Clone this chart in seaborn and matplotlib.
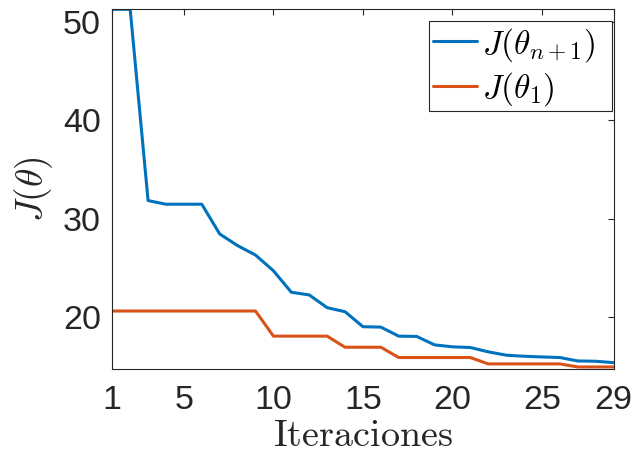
import numpy as np
import pandas as pd
import matplotlib
matplotlib.use("Agg")
import matplotlib.pyplot as plt
from matplotlib.patches import Rectangle
import seaborn as sns

# ---- data ----
iteraciones = list(range(1, 30))
j_theta_n1 = [51.32, 51.32, 31.83, 31.46, 31.46, 31.46, 28.43, 27.24, 26.28, 24.68,
              22.49, 22.22, 20.92, 20.51, 18.98, 18.94, 18.02, 17.99, 17.13, 16.93,
              16.86, 16.42, 16.08, 15.97, 15.90, 15.84, 15.49, 15.46, 15.32]
j_theta_1 = [20.58] * 9 + [18.02] * 4 + [16.89] * 3 + [15.84] * 5 + [15.19] * 5 + [14.88] * 3
series_labels = [r'$J(\theta_{n+1})$', r'$J(\theta_1)$']
x_ticks = [1, 5, 10, 15, 20, 25, 29]
y_ticks = [20, 30, 40, 50]

df = pd.DataFrame({
    'it': iteraciones * 2,
    'J': j_theta_n1 + j_theta_1,
    'serie': [series_labels[0]] * len(iteraciones) + [series_labels[1]] * len(iteraciones),
})

sns.set_theme(style='white')
plt.rcParams['font.family'] = ['Liberation Sans', 'DejaVu Sans']
plt.rcParams['mathtext.fontset'] = 'cm'

dark = '#262626'
W, H = 634, 461
fig = plt.figure(figsize=(W / 100, H / 100), dpi=100)
ax = fig.add_axes([0.1771, 0.1989, 0.9678 - 0.1771, 0.9798 - 0.1989])

sns.lineplot(data=df, x='it', y='J', hue='serie', hue_order=series_labels,
             palette=['#0072BD', '#D95319'], linewidth=2.2, ax=ax)

ax.set_xlim(1, 29)
ax.set_ylim(14.64, 51.32)
ax.set_xticks(x_ticks)
ax.set_yticks(y_ticks)
ax.tick_params(direction='in', length=4.3, width=0.8, color=dark, labelcolor=dark,
               labelsize=24.5, top=True, right=True)
ax.tick_params(axis='x', pad=11)
ax.tick_params(axis='y', pad=8)
for s in ax.spines.values():
    s.set_color(dark)
    s.set_linewidth(0.8)
    s.set_visible(True)

ax.set_xlabel(r'$\mathrm{Iteraciones}$', fontsize=27.5, color=dark, labelpad=2)
ax.set_ylabel(r'$J(\theta)$', fontsize=27, color=dark, labelpad=6)

handles, labels = ax.get_legend_handles_labels()
leg = ax.legend(handles, labels, loc='upper right',
                bbox_to_anchor=(600.0 / W, 1 - 20.7 / H), bbox_transform=fig.transFigure,
                borderaxespad=0, fontsize=24, frameon=False,
                handlelength=1.33, handletextpad=0.15,
                borderpad=0.15, labelspacing=0.2)
leg.set_zorder(6)
for t in leg.get_texts():
    t.set_color('black')

# legend box (MATLAB style, extra room on the right)
box = Rectangle((429.3 / W, 1 - 111.0 / H), (612.3 - 429.3) / W, (111.0 - 20.7) / H,
                transform=fig.transFigure, facecolor='white', edgecolor=dark,
                linewidth=0.8, zorder=5.5, clip_on=False)
ax.add_patch(box)

fig.savefig('out.png', dpi=100)
